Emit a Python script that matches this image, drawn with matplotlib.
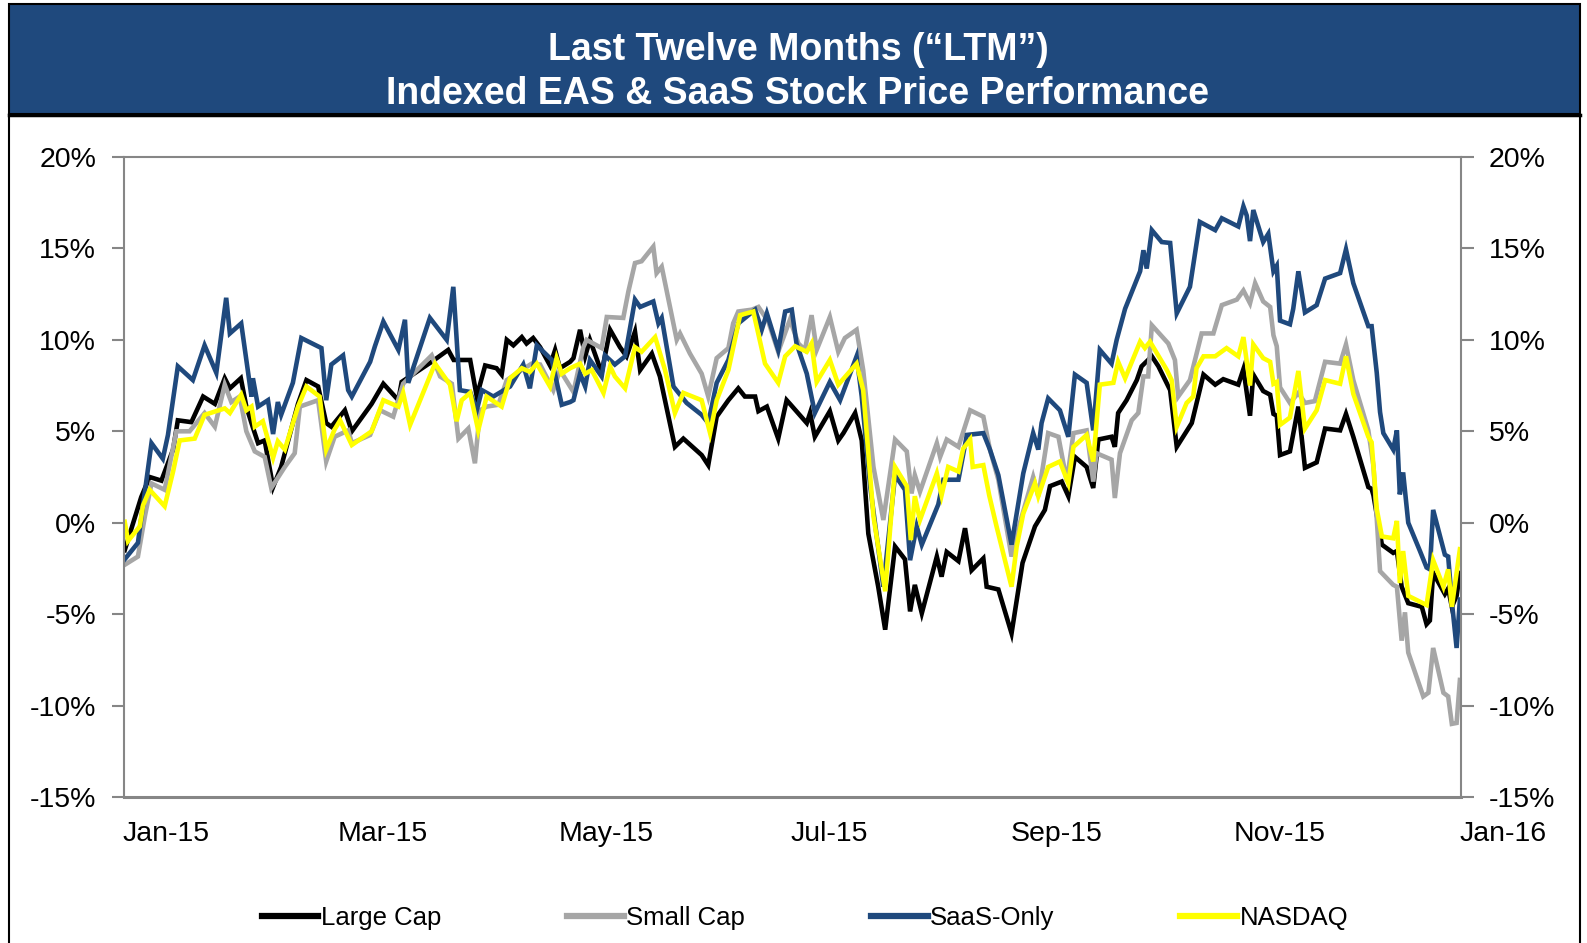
import matplotlib
matplotlib.use("Agg")
import matplotlib.pyplot as plt
import matplotlib.dates as mdates
import matplotlib.transforms as mtransforms
from matplotlib.lines import Line2D
from matplotlib.patches import Rectangle
from datetime import date
import numpy as np

plt.rcParams['font.family'] = ['Liberation Sans', 'DejaVu Sans']

# days after 1 Jan 2015, percent change
large_days = [0.2, 4.7, 7.0, 10.2, 13.4, 14.7, 18.4, 21.6, 24.8, 27.5,
              28.9, 31.9, 33.4, 34.8, 36.6, 38.4, 40.7, 42.9, 47.5, 49.8,
              53.0, 55.2, 56.6, 60.3, 62.2, 67.6, 70.8, 74.9, 75.8, 84.0,
              88.5, 90.0, 94.5, 96.3, 98.6, 101.7, 103.1, 104.5, 106.3, 108.6,
              109.9, 111.7, 113.6, 116.3, 117.7, 119.0, 121.8, 122.7, 124.5, 125.9,
              127.2, 130.4, 132.7, 135.4, 137.2, 139.5, 140.9, 144.1, 146.3, 150.4,
              152.7, 157.7, 159.5, 161.8, 165.0, 167.7, 169.5, 172.3, 173.2, 175.5,
              178.6, 180.9, 181.8, 186.4, 187.3, 188.6, 192.7, 195.0, 196.4, 199.6,
              201.4, 203.2, 205.9, 207.8, 210.5, 213.2, 214.6, 215.9, 217.8, 221.9,
              223.2, 224.6, 227.8, 229.6, 231.4, 234.6, 235.5, 238.7, 242.3, 245.3,
              248.7, 251.4, 252.8, 256.0, 257.8, 259.6, 262.8, 264.6, 266.0, 269.6,
              270.5, 271.4, 273.7, 276.5, 277.8, 280.6, 282.4, 285.6, 287.4, 291.5,
              294.7, 297.9, 300.1, 304.2, 305.6, 307.4, 308.3, 311.0, 312.9, 313.8,
              314.7, 315.6, 318.3, 320.6, 322.4, 325.6, 327.9, 332.0, 333.6, 335.6,
              339.7, 340.6, 341.1, 343.4, 346.5, 347.5, 348.8, 350.6, 354.3, 355.6,
              356.5, 357.4, 360.6, 361.5, 362.5, 363.8, 364.7]
large_vals = [-1.5, 1.4, 2.5, 2.3, 4.0, 5.6, 5.5, 6.9, 6.5, 7.9,
              7.35, 7.9, 6.35, 5.45, 4.35, 4.5, 1.95, 3.05, 6.5, 7.8,
              7.45, 5.45, 5.25, 6.15, 5.0, 6.5, 7.6, 6.7, 7.7, 8.8,
              9.45, 8.9, 8.9, 6.9, 8.6, 8.45, 8.1, 10.0, 9.7, 10.15,
              9.8, 10.1, 9.6, 8.6, 9.45, 8.45, 8.8, 9.0, 10.55, 9.1,
              10.0, 8.2, 10.55, 9.6, 9.1, 10.45, 8.35, 9.25, 8.0, 4.15,
              4.6, 3.7, 3.15, 5.8, 6.7, 7.35, 6.9, 6.9, 6.1, 6.35,
              4.6, 6.7, 6.5, 5.45, 6.0, 4.7, 6.1, 4.5, 4.9, 6.0,
              4.5, -0.6, -3.5, -5.85, -1.3, -2.0, -4.85, -3.4, -4.95, -1.85,
              -2.95, -1.6, -2.1, -0.3, -2.6, -1.95, -3.5, -3.65, -6.05, -2.2,
              -0.2, 0.7, 2.0, 2.25, 1.45, 3.6, 3.05, 1.9, 4.55, 4.7,
              4.15, 6.0, 6.7, 7.8, 8.55, 9.1, 8.55, 7.25, 4.15, 5.45,
              8.1, 7.55, 7.85, 7.55, 8.4, 5.85, 8.1, 7.2, 7.0, 5.95,
              5.85, 3.7, 3.9, 6.35, 3.0, 3.3, 5.15, 5.05, 5.95, 4.7,
              1.95, 1.85, 1.5, -1.2, -1.65, -1.55, -3.5, -4.4, -4.6, -5.55,
              -5.35, -2.75, -3.9, -3.6, -4.6, -4.0, -2.75]

small_days = [0.2, 3.8, 5.7, 7.5, 11.1, 14.3, 17.9, 22.0, 24.8, 27.5,
              29.3, 31.6, 33.4, 35.7, 38.4, 40.2, 43.9, 46.6, 48.0, 53.0,
              55.2, 57.5, 61.2, 62.2, 67.2, 69.9, 73.5, 76.2, 84.0, 86.3,
              89.5, 91.3, 94.0, 95.8, 97.2, 99.0, 102.2, 104.5, 108.6, 111.3,
              113.6, 117.2, 119.0, 121.8, 122.7, 125.4, 126.3, 130.4, 131.8, 136.3,
              137.7, 139.5, 141.3, 144.5, 145.4, 146.8, 150.9, 151.8, 154.5, 157.7,
              159.5, 161.8, 165.0, 166.3, 167.7, 171.4, 173.2, 175.9, 178.6, 181.8,
              184.1, 185.9, 187.7, 189.1, 192.7, 195.0, 196.8, 200.0, 201.8, 204.6,
              207.3, 210.5, 213.7, 215.0, 215.9, 217.3, 221.9, 222.8, 224.6, 227.8,
              231.0, 234.6, 236.4, 238.7, 242.3, 244.6, 248.2, 249.6, 252.3, 255.1,
              257.4, 259.2, 262.8, 264.6, 265.5, 269.6, 270.5, 271.9, 275.1, 276.9,
              278.3, 279.6, 280.6, 285.1, 286.9, 287.8, 291.0, 294.2, 297.4, 299.7,
              303.8, 305.6, 307.4, 308.8, 311.0, 312.9, 313.8, 314.7, 315.6, 318.3,
              320.6, 322.4, 325.1, 327.9, 332.0, 333.6, 335.6, 339.7, 341.1, 342.9,
              346.5, 347.5, 348.8, 349.7, 350.6, 354.7, 356.1, 357.4, 360.2, 361.5,
              362.5, 363.8, 364.7]
small_vals = [-2.3, -1.85, 0.35, 2.15, 1.8, 5.0, 5.0, 6.0, 5.25, 7.55,
              6.6, 6.9, 5.0, 3.9, 3.6, 1.9, 3.05, 3.8, 6.35, 6.7,
              3.35, 4.7, 5.05, 4.35, 4.8, 6.15, 5.8, 7.6, 9.15, 8.0,
              7.6, 4.6, 5.15, 3.25, 6.15, 6.35, 6.45, 7.8, 8.35, 8.7,
              8.65, 7.25, 8.35, 7.45, 7.15, 9.6, 10.0, 9.55, 11.25, 11.2,
              12.65, 14.2, 14.3, 15.1, 13.65, 14.0, 10.0, 10.35, 9.25, 8.15,
              6.9, 9.0, 9.55, 10.9, 11.55, 11.65, 11.8, 11.0, 9.35, 11.1,
              9.8, 9.45, 11.35, 9.45, 11.25, 9.35, 10.1, 10.55, 8.35, 3.05,
              0.15, 4.55, 3.9, 1.6, 2.6, 1.7, 4.35, 3.6, 4.55, 4.15,
              6.15, 5.8, 4.0, 2.35, -1.85, 0.0, 2.5, 1.45, 4.9, 4.7,
              2.25, 4.9, 5.05, 2.25, 3.8, 3.45, 1.35, 3.8, 5.6, 6.0,
              8.0, 8.0, 10.8, 9.8, 8.9, 6.9, 7.8, 10.35, 10.35, 11.9,
              12.2, 12.7, 12.0, 13.1, 12.1, 11.8, 10.25, 9.65, 7.4, 6.55,
              7.1, 6.55, 6.65, 8.8, 8.7, 9.75, 7.8, 5.05, 3.1, -2.65,
              -3.4, -3.5, -6.45, -4.9, -7.1, -9.5, -9.3, -6.85, -9.3, -9.5,
              -11.0, -10.95, -8.6]

saas_days = [0.2, 3.8, 7.5, 10.6, 12.0, 14.7, 18.8, 22.0, 25.2, 27.9,
             28.9, 32.0, 34.8, 35.2, 36.6, 39.3, 40.7, 42.0, 42.9, 46.1,
             48.4, 53.9, 55.2, 56.6, 59.8, 61.2, 62.2, 67.2, 68.5, 70.8,
             74.9, 76.7, 77.6, 83.5, 88.1, 89.9, 91.7, 94.5, 96.3, 97.7,
             100.8, 105.4, 109.0, 110.8, 112.7, 116.8, 119.5, 121.8, 122.7, 124.5,
             125.9, 127.2, 130.4, 131.3, 134.0, 136.8, 139.5, 140.9, 144.5, 145.9,
             146.8, 150.0, 153.6, 157.7, 159.5, 161.8, 165.0, 167.7, 172.3, 174.1,
             175.5, 178.6, 180.5, 182.3, 183.6, 186.4, 188.6, 192.7, 195.5, 200.0,
             201.4, 203.7, 207.3, 210.5, 213.2, 214.6, 216.4, 217.8, 222.3, 223.7,
             227.8, 230.1, 234.6, 236.4, 238.7, 242.3, 245.5, 248.2, 249.6, 250.5,
             252.3, 255.5, 257.8, 259.6, 262.8, 264.6, 266.4, 269.6, 271.0, 273.3,
             277.4, 278.3, 279.2, 280.6, 283.3, 285.6, 287.4, 291.0, 293.7, 297.9,
             299.7, 304.2, 305.6, 306.5, 307.4, 308.3, 311.0, 312.4, 313.8, 314.7,
             315.6, 318.3, 319.2, 320.6, 322.4, 325.6, 327.9, 332.0, 333.6, 335.6,
             339.7, 340.6, 342.0, 342.9, 343.8, 346.5, 347.5, 348.3, 349.2, 350.6,
             353.8, 355.6, 356.5, 357.4, 360.6, 361.5, 362.5, 363.8, 364.7]
saas_vals = [-2.0, -1.1, 4.35, 3.5, 4.8, 8.55, 7.8, 9.7, 8.2, 12.3,
             10.35, 10.9, 6.9, 7.9, 6.35, 6.7, 4.85, 6.6, 5.9, 7.65,
             10.1, 9.55, 6.7, 8.65, 9.15, 7.25, 6.9, 8.8, 9.65, 11.0,
             9.45, 11.1, 7.65, 11.2, 10.0, 12.9, 7.25, 7.15, 6.15, 7.25,
             6.9, 7.45, 8.65, 7.35, 9.7, 8.9, 6.45, 6.6, 6.7, 8.15,
             7.45, 8.9, 8.0, 9.15, 8.65, 9.1, 12.2, 11.8, 12.1, 10.9,
             11.2, 7.45, 6.55, 5.9, 5.45, 7.65, 8.9, 10.9, 11.65, 10.55,
             11.45, 9.45, 11.55, 11.65, 9.8, 8.15, 6.0, 7.7, 6.7, 9.1,
             6.9, 2.0, -3.5, 2.6, 1.8, -2.05, -0.2, -1.2, 1.0, 2.35,
             2.35, 4.8, 4.9, 4.0, 2.6, -1.2, 2.7, 4.9, 4.0, 5.45,
             6.8, 6.15, 4.7, 8.1, 7.65, 5.05, 9.45, 8.7, 10.0, 11.7,
             13.75, 14.9, 13.9, 16.0, 15.35, 15.3, 11.45, 12.9, 16.45, 16.0,
             16.65, 16.2, 17.3, 16.8, 15.4, 17.1, 15.35, 15.8, 13.75, 14.05,
             11.05, 10.85, 11.7, 13.75, 11.5, 11.9, 13.35, 13.65, 14.95, 13.1,
             10.75, 10.75, 8.2, 6.05, 4.9, 4.0, 5.05, 1.55, 2.75, 0.0,
             -1.55, -2.45, -2.55, 0.7, -1.75, -1.85, -4.3, -6.85, -4.2]

nasdaq_days = [0.2, 1.1, 4.3, 5.2, 7.0, 11.1, 13.4, 15.2, 19.3, 22.0,
               27.5, 28.9, 32.0, 33.4, 34.8, 35.7, 37.9, 40.7, 42.0, 43.9,
               47.5, 49.8, 53.4, 55.2, 57.5, 59.0, 62.2, 67.6, 70.8, 74.9,
               76.2, 78.1, 84.9, 89.0, 90.8, 92.2, 94.5, 96.7, 99.0, 103.1,
               105.4, 108.6, 110.8, 112.7, 116.3, 118.1, 119.5, 121.8, 124.5, 125.9,
               127.7, 130.9, 132.7, 134.0, 136.8, 139.5, 141.3, 145.0, 147.7, 150.4,
               152.7, 157.7, 160.0, 161.8, 165.0, 168.2, 171.8, 175.0, 178.6, 180.5,
               183.2, 186.4, 187.7, 189.1, 192.7, 195.0, 200.0, 201.8, 204.6, 207.8,
               210.5, 213.7, 214.8, 215.9, 217.3, 221.9, 223.2, 225.0, 227.8, 229.1,
               231.0, 231.7, 234.6, 236.2, 238.2, 242.3, 243.7, 245.5, 248.7, 249.6,
               252.3, 255.5, 257.8, 259.2, 262.8, 264.6, 266.4, 270.1, 271.4, 273.3,
               277.4, 278.7, 280.1, 284.7, 286.0, 287.4, 290.1, 291.9, 292.8, 294.7,
               297.9, 301.0, 304.2, 305.6, 307.4, 308.3, 311.0, 312.9, 313.8, 314.7,
               315.6, 318.3, 320.6, 322.4, 325.6, 327.9, 332.0, 333.6, 335.6, 339.7,
               340.6, 342.0, 343.4, 346.5, 347.5, 348.3, 349.2, 350.6, 355.6, 357.4,
               360.2, 361.5, 362.5, 364.7]
nasdaq_vals = [0.05, -1.0, -0.2, 0.95, 1.8, 0.9, 2.8, 4.5, 4.6, 5.9,
               6.25, 6.0, 7.0, 6.15, 6.35, 5.25, 5.55, 3.55, 4.45, 4.0,
               6.35, 7.45, 6.9, 4.0, 5.1, 5.6, 4.25, 5.0, 6.7, 6.35,
               7.1, 5.35, 8.7, 7.55, 5.55, 6.7, 7.1, 5.05, 6.9, 6.35,
               7.9, 8.45, 8.25, 8.7, 7.45, 9.0, 8.15, 8.45, 8.7, 8.15,
               8.35, 7.1, 8.55, 8.0, 7.35, 9.6, 9.35, 10.15, 8.35, 6.0,
               7.1, 6.7, 4.9, 6.7, 8.35, 11.35, 11.55, 8.7, 7.65, 9.1,
               9.65, 9.35, 9.8, 7.7, 8.9, 7.55, 8.7, 7.25, 0.35, -3.75,
               3.05, 2.0, -0.95, 1.45, 0.15, 2.7, 1.5, 3.05, 2.8, 4.05,
               4.55, 3.05, 3.15, 1.5, -0.2, -3.5, -1.3, 0.5, 2.15, 1.45,
               3.05, 3.35, 2.15, 4.15, 4.8, 3.35, 7.55, 7.65, 8.8, 7.9,
               9.9, 9.55, 9.9, 8.35, 7.8, 5.25, 6.55, 6.9, 8.45, 9.1,
               9.1, 9.55, 9.1, 10.15, 7.5, 9.75, 9.0, 8.8, 7.6, 7.7,
               5.35, 5.75, 8.3, 5.15, 6.15, 7.8, 7.6, 9.1, 7.05, 4.7,
               4.4, 0.75, -0.75, -0.85, 0.1, -3.3, -1.55, -4.0, -4.5, -2.05,
               -3.5, -2.55, -4.6, -1.45]

series_names = ['Large Cap', 'Small Cap', 'SaaS-Only', 'NASDAQ']
month_ticks = [date(2015, 1, 1), date(2015, 3, 1), date(2015, 5, 1), date(2015, 7, 1),
               date(2015, 9, 1), date(2015, 11, 1), date(2016, 1, 1)]
month_labels = ['Jan-15', 'Mar-15', 'May-15', 'Jul-15', 'Sep-15', 'Nov-15', 'Jan-16']
y_ticks = [-15, -10, -5, 0, 5, 10, 15, 20]
y_labels = ['-15%', '-10%', '-5%', '0%', '5%', '10%', '15%', '20%']

navy = '#1F497D'
colors = ['#000000', '#A6A6A6', navy, '#FFFF00']
axis_gray = '#868686'

W, H = 1587, 943
fig = plt.figure(figsize=(W / 100, H / 100), dpi=100)

# banner and frame
fig.add_artist(Rectangle((9 / W, 1 - 114 / H), 1571 / W, 110 / H, transform=fig.transFigure,
                         facecolor=navy, edgecolor='black', lw=1.5))
fig.add_artist(Line2D([9 / W, 1580 / W], [1 - 115 / H, 1 - 115 / H], transform=fig.transFigure,
                      color='black', lw=2.5))
for xf in (9 / W, 1580 / W):
    fig.add_artist(Line2D([xf, xf], [0, 1 - 114 / H], transform=fig.transFigure, color='black', lw=1.5))

fig.text(798 / W, 1 - 50 / H, 'Last Twelve Months (\u201cLTM\u201d)', ha='center', va='center',
         color='white', fontsize=27, fontweight='bold')
fig.text(798 / W, 1 - 94 / H, 'Indexed EAS & SaaS Stock Price Performance', ha='center', va='center',
         color='white', fontsize=27, fontweight='bold')

ax = fig.add_axes([124 / W, 1 - 797 / H, (1461 - 124) / W, (797 - 157) / H])
start = mdates.date2num(date(2015, 1, 1))

all_days = [large_days, small_days, saas_days, nasdaq_days]
all_vals = [large_vals, small_vals, saas_vals, nasdaq_vals]
for d, v, c, name in zip(all_days, all_vals, colors, series_names):
    ax.plot(start + np.array(d), v, color=c, lw=3.3, label=name, solid_joinstyle='miter')

ax.set_xlim(start, start + 365)
ax.set_ylim(-15, 20)
ax.set_yticks(y_ticks)
ax.set_yticklabels(y_labels)
ax.set_xticks([mdates.date2num(t) for t in month_ticks])
ax.set_xticklabels(month_labels)

ax.tick_params(axis='y', left=True, right=True, labelleft=True, labelright=True,
               direction='out', length=9, width=1.5, color=axis_gray, labelsize=20.5, pad=11)
ax.tick_params(axis='x', length=0, labelsize=20.5, pad=17)
offset = mtransforms.ScaledTranslation(0.425, 0, fig.dpi_scale_trans)
for lab in ax.get_xticklabels():
    lab.set_transform(lab.get_transform() + offset)

for s in ax.spines.values():
    s.set_color(axis_gray)
    s.set_linewidth(1.5)
ax.spines['bottom'].set_linewidth(2.2)

handles = [Line2D([], [], color=c, lw=4.5) for c in colors]
fig.legend(handles, series_names, loc='center', bbox_to_anchor=(805 / W, 1 - 918 / H), ncol=4,
           frameon=False, fontsize=18.5, handlelength=2.2, handletextpad=0.1, columnspacing=4.9)

fig.savefig('out.png', dpi=100)
